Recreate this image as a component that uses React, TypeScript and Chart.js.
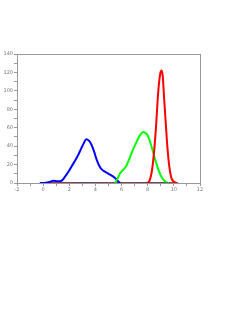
import React, { useEffect, useRef } from "react";
import { Chart, registerables } from "chart.js";

Chart.register(...registerables);

const blueX = [-0.25, 0.2, 0.5, 0.8, 1.05, 1.3, 1.5, 1.7, 1.95, 2.2, 2.45, 2.7, 2.9, 3.1, 3.3, 3.5, 3.7, 3.9, 4.1, 4.3, 4.5, 4.75, 5.0, 5.25, 5.5, 5.75, 5.9];
const blueY = [0, 0.3, 1.2, 2.5, 2.0, 1.8, 3.5, 7.5, 12.5, 18.5, 24.5, 31, 37, 43, 47.5, 46, 41.5, 34, 25, 18.5, 14.5, 12, 10, 8, 5.4, 1.7, 0];

const greenX = [5.5, 5.7, 5.9, 6.1, 6.3, 6.5, 6.7, 6.9, 7.1, 7.3, 7.5, 7.65, 7.8, 8.0, 8.2, 8.4, 8.6, 8.8, 9.0, 9.2, 9.4, 9.6];
const greenY = [0, 5, 10.8, 14, 17, 23, 30, 37, 43, 49, 53.5, 55.3, 54.5, 51.5, 44, 34, 24, 15, 8, 3.6, 1, 0];

const redX = [7.8, 8.05, 8.2, 8.35, 8.5, 8.64, 8.8, 8.95, 9.05, 9.15, 9.25, 9.38, 9.5, 9.65, 9.8, 9.95, 10.1, 10.3];
const redY = [0, 0.7, 5, 16, 36, 62, 98, 118, 122, 116, 93, 65, 40, 18, 6, 2, 0.5, 0];

const baseX = [-0.25, 10.1];
const baseY = [0, 0];

const rugX = [1.5, 1.8, 2.0, 2.2, 2.4, 2.55, 2.7, 2.85, 3.0, 3.1, 3.2, 3.3, 3.4, 3.5, 3.6, 3.75, 3.9, 4.05, 4.2, 4.4, 4.6, 4.85, 5.1, 5.35, 6.0, 6.3, 6.6, 6.8, 7.0, 7.2, 7.35, 7.5, 7.65, 7.8, 7.95, 8.1, 8.3, 8.5, 8.7, 8.9, 9.0, 9.1, 9.2, 9.35, 9.5, 9.7];

const xTickMin = -2;
const xTickMax = 12;
const yTickMin = 0;
const yTickMax = 140;

const pts = (xs: number[], ys: number[]) => xs.map((x, i) => ({ x, y: ys[i] }));

const framePlugin = {
  id: "frame",
  afterDraw(chart: any) {
    const { ctx, chartArea } = chart;
    ctx.save();
    ctx.strokeStyle = "#999";
    ctx.lineWidth = 1;
    ctx.strokeRect(chartArea.left + 0.5, chartArea.top + 0.5, chartArea.right - chartArea.left, chartArea.bottom - chartArea.top);
    ctx.restore();
  },
};

export default function App() {
  const ref = useRef<HTMLCanvasElement>(null);
  useEffect(() => {
    if (!ref.current) return;
    const tickFont = { size: 5, family: "DejaVu Sans" };
    const chart = new Chart(ref.current, {
      type: "line",
      data: {
        datasets: [
          {
            data: pts(rugX, rugX.map(() => 0)),
            showLine: false,
            pointRadius: 1,
            pointStyle: "circle",
            backgroundColor: "rgba(80,70,110,0.8)",
            borderColor: "rgba(80,70,110,0.8)",
            borderWidth: 0,
            order: 0,
          },
          {
            data: pts(baseX, baseY),
            borderColor: "#a8453f",
            borderWidth: 2,
            pointRadius: 0,
            order: 4,
          },
          {
            data: pts(blueX, blueY),
            borderColor: "#0000ff",
            borderWidth: 2,
            pointRadius: 0,
            cubicInterpolationMode: "monotone",
            order: 3,
          },
          {
            data: pts(greenX, greenY),
            borderColor: "#00ff00",
            borderWidth: 2,
            pointRadius: 0,
            cubicInterpolationMode: "monotone",
            order: 2,
          },
          {
            data: pts(redX, redY),
            borderColor: "#ff0000",
            borderWidth: 2,
            pointRadius: 0,
            cubicInterpolationMode: "monotone",
            order: 1,
          },
        ],
      },
      options: {
        animation: false,
        responsive: false,
        parsing: false as any,
        layout: { padding: { top: 54, right: 49, bottom: 130, left: 0 } },
        plugins: { legend: { display: false }, tooltip: { enabled: false } },
        scales: {
          x: {
            type: "linear",
            min: xTickMin,
            max: xTickMax,
            afterFit: (s: any) => {
              s.height = 10;
            },
            border: { color: "#999", width: 1 },
            grid: { drawOnChartArea: false, tickLength: 3, color: "#999" },
            ticks: {
              stepSize: 1,
              autoSkip: false,
              maxRotation: 0,
              padding: 1,
              color: "#777",
              font: tickFont,
              callback: (v: any) => (Number(v) % 2 === 0 ? String(v) : ""),
            },
          },
          y: {
            type: "linear",
            min: yTickMin,
            max: yTickMax,
            afterFit: (s: any) => {
              s.width = 17;
            },
            border: { color: "#999", width: 1 },
            grid: { drawOnChartArea: false, tickLength: 3, color: "#999" },
            ticks: {
              stepSize: 10,
              autoSkip: false,
              padding: 1,
              color: "#777",
              font: tickFont,
              callback: (v: any) => (Number(v) % 20 === 0 ? String(v) : ""),
            },
          },
        },
      },
      plugins: [framePlugin],
    } as any);
    return () => chart.destroy();
  }, []);
  return (
    <canvas
      ref={ref}
      width={249}
      height={323}
      style={{ position: "absolute", left: 0, top: 0, width: 249, height: 323 }}
    />
  );
}
